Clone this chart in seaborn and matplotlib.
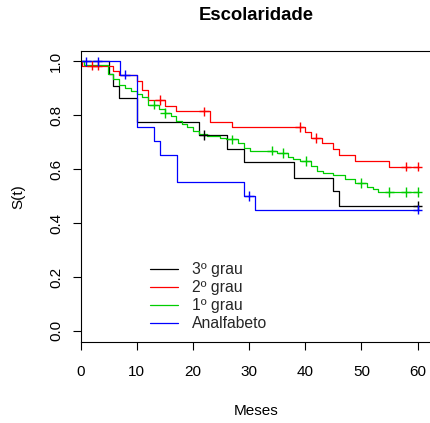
import numpy as np
import pandas as pd
import matplotlib
matplotlib.use("Agg")
import matplotlib.pyplot as plt
from matplotlib.lines import Line2D
import seaborn as sns

# ---- data (Kaplan-Meier step curves) ----
groups = ["3º grau", "2º grau", "1º grau", "Analfabeto"]
colors = ["#000000", "#FF0000", "#00CD00", "#0000FF"]

times_3 = [0, 5.0, 5.8, 6.9, 10.0, 21.0, 26.0, 29.1, 38.0, 45.0, 46.1]
surv_3 = [1.0, 0.954, 0.909, 0.864, 0.775, 0.728, 0.677, 0.627, 0.569, 0.521, 0.465]
cens_3 = [22.0, 60.0]

times_2 = [0, 0.3, 5.8, 6.9, 10.0, 11.0, 11.9, 15.0, 17.0, 23.0, 27.0, 40.0,
           41.0, 43.0, 45.0, 46.1, 48.9, 55.0]
surv_2 = [1.0, 0.985, 0.966, 0.951, 0.929, 0.895, 0.857, 0.835, 0.815, 0.776,
          0.757, 0.737, 0.716, 0.696, 0.675, 0.654, 0.630, 0.610]
cens_2 = [2.0, 3.0, 14.1, 22.0, 39.0, 42.0, 58.0, 60.0]

times_1 = [0, 0.5, 4.8, 5.8, 6.9, 7.9, 9.0, 10.0, 11.0, 11.9, 14.0, 15.0, 16.0,
           17.0, 18.0, 19.0, 20.0, 21.0, 22.5, 24.8, 25.9, 28.1, 29.1, 30.1,
           35.0, 36.9, 37.9, 39.1, 41.1, 42.1, 43.1, 45.0, 47.0, 48.9, 51.0,
           52.0, 53.0]
surv_1 = [1.0, 0.988, 0.953, 0.935, 0.914, 0.901, 0.889, 0.879, 0.870, 0.840,
          0.822, 0.809, 0.798, 0.778, 0.767, 0.756, 0.741, 0.729, 0.724, 0.716,
          0.711, 0.698, 0.678, 0.669, 0.661, 0.646, 0.638, 0.630, 0.611, 0.593,
          0.585, 0.577, 0.564, 0.549, 0.535, 0.526, 0.516]
cens_1 = [13.0, 15.0, 27.0, 34.0, 36.0, 40.1, 50.0, 55.0, 58.0, 60.0]

times_0 = [0, 7.0, 10.0, 13.0, 14.1, 17.1, 29.1, 31.0]
surv_0 = [1.0, 0.951, 0.756, 0.705, 0.654, 0.553, 0.500, 0.450]
cens_0 = [1.0, 3.0, 7.9, 30.0, 60.0]

end_time = 60.0
x_ticks = [0, 10, 20, 30, 40, 50, 60]
y_ticks = [0.0, 0.2, 0.4, 0.6, 0.8, 1.0]

series = {
    "3º grau": (times_3, surv_3, cens_3),
    "2º grau": (times_2, surv_2, cens_2),
    "1º grau": (times_1, surv_1, cens_1),
    "Analfabeto": (times_0, surv_0, cens_0),
}

# build long-form tables
line_rows, cens_rows = [], []
for g, (tt, ss, cc) in series.items():
    tt_ext = list(tt) + [end_time]
    ss_ext = list(ss) + [ss[-1]]
    for t, s in zip(tt_ext, ss_ext):
        line_rows.append({"grupo": g, "t": t, "S": s})
    for c in cc:
        idx = np.searchsorted(tt, c, side="right") - 1
        cens_rows.append({"grupo": g, "t": c, "S": ss[idx]})
df_line = pd.DataFrame(line_rows)
df_cens = pd.DataFrame(cens_rows)
palette = dict(zip(groups, colors))

# ---- figure ----
sns.set_theme(style="white")
plt.rcParams["font.family"] = ["Liberation Sans", "DejaVu Sans"]

W, H = 430, 423
fig = plt.figure(figsize=(W / 100, H / 100), dpi=100)
x0_px, x1_px = 80.7, 431.0
y_top_px, y_bot_px = 50.7, 341.7
ax = fig.add_axes([x0_px / W, 1 - y_bot_px / H, (x1_px - x0_px) / W,
                   (y_bot_px - y_top_px) / H])

sns.lineplot(data=df_line, x="t", y="S", hue="grupo", palette=palette,
             hue_order=groups, estimator=None, sort=True, drawstyle="steps-post",
             linewidth=0.9, legend=False, ax=ax)
sns.scatterplot(data=df_cens, x="t", y="S", hue="grupo", palette=palette,
                hue_order=groups, marker="+", s=48, linewidth=1.0,
                legend=False, ax=ax, zorder=3)

ax.set_xlim(0, 62.4)
ax.set_ylim(-0.04, 1.04)
ax.set_xticks(x_ticks)
ax.set_xticklabels([str(v) for v in x_ticks])
ax.set_yticks(y_ticks)
ax.set_yticklabels([f"{v:.1f}" for v in y_ticks], rotation=90, va="center")
ax.tick_params(axis="both", direction="out", length=5.5, width=0.8,
               color="black", labelsize=11, labelcolor="black",
               bottom=True, left=True)
ax.tick_params(axis="x", pad=11)
ax.tick_params(axis="y", pad=7)
for sp in ax.spines.values():
    sp.set_visible(True)
    sp.set_color("black")
    sp.set_linewidth(0.8)

ax.set_xlabel("Meses", fontsize=11, color="black")
ax.set_ylabel("S(t)", fontsize=11, color="black")
ax.xaxis.label.set_va("center")
ax.yaxis.label.set_va("center")
ax.xaxis.set_label_coords(0.5, (y_bot_px - 411) / (y_bot_px - y_top_px))
ax.yaxis.set_label_coords((18.3 - x0_px) / (x1_px - x0_px), 0.5)

fig.text(255.8 / W, 1 - 15.5 / H, "Escolaridade", fontsize=13.3,
         fontweight="bold", ha="center", va="center", color="black")

handles = [Line2D([], [], color=c, lw=0.9) for c in colors]
ax.legend(handles, groups, loc="upper left",
          bbox_to_anchor=(150 / W, 1 - 262 / H), bbox_transform=fig.transFigure,
          frameon=False, fontsize=11.3, handlelength=1.8, handletextpad=0.85,
          labelspacing=0.2, borderpad=0, borderaxespad=0)

fig.savefig("out.png", dpi=100)
